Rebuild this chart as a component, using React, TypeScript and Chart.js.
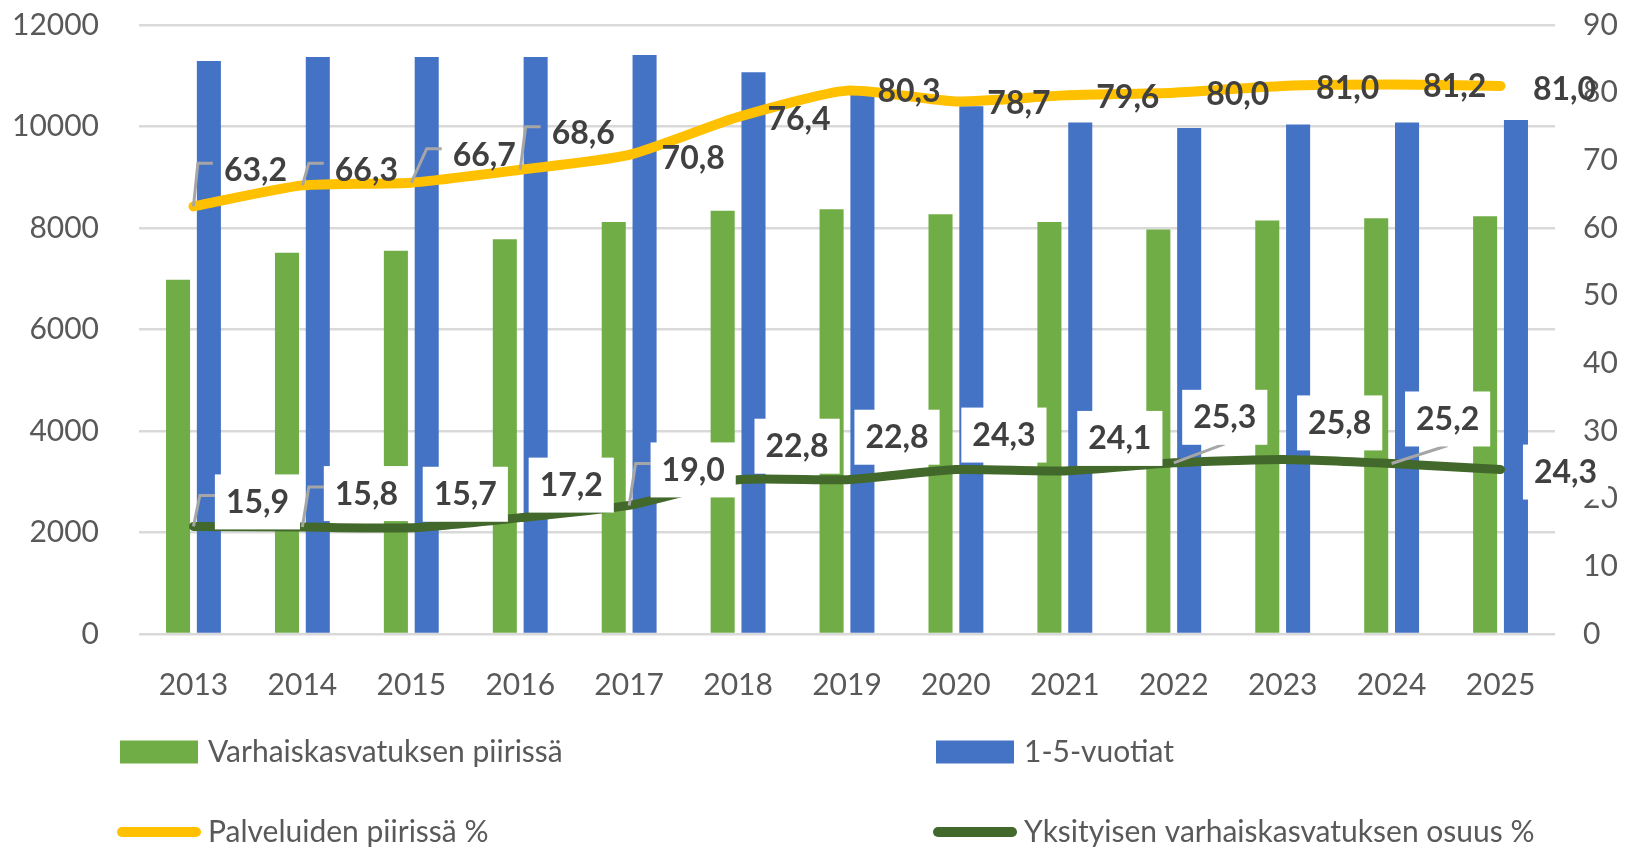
import React, { useEffect, useRef } from "react";
import { Chart, registerables } from "chart.js";

Chart.register(...registerables);

// ---- data ----
const years = ["2013", "2014", "2015", "2016", "2017", "2018", "2019", "2020", "2021", "2022", "2023", "2024", "2025"];
const inEarlyEducation = [6980, 7510, 7550, 7780, 8120, 8340, 8370, 8270, 8120, 7970, 8150, 8190, 8230];
const children1to5 = [11290, 11370, 11370, 11370, 11410, 11070, 10650, 10400, 10080, 9970, 10040, 10080, 10130];
const servicesPct = [63.2, 66.3, 66.7, 68.6, 70.8, 76.4, 80.3, 78.7, 79.6, 80.0, 81.0, 81.2, 81.0];
const privateSharePct = [15.9, 15.8, 15.7, 17.2, 19.0, 22.8, 22.8, 24.3, 24.1, 25.3, 25.8, 25.2, 24.3];

const seriesNames = [
  "Varhaiskasvatuksen piirissä",
  "1-5-vuotiat",
  "Palveluiden piirissä %",
  "Yksityisen varhaiskasvatuksen osuus %",
];

// ---- label layout (pixel nudges relative to the point, plus leader style) ----
const servicesLabelNudge: [number, number, string][] = [
  [62, -37, "elbow"], [64, -16, "elbow"], [73, -28, "elbow"], [63, -37, "elbow"], [64, 3, ""],
  [61, 1, ""], [62, 0, ""], [63, 1, ""], [63, 1, ""], [64, 1, ""], [65, 2, ""], [63, 1, ""], [64, 3, ""],
];
const privateLabelNudge: [number, number, string][] = [
  [64, -25, "elbow"], [64, -34, "elbow"], [54, -34, ""], [51, -33, ""], [64, -36, "elbow"],
  [59, -34, ""], [50, -43, ""], [48, -35, ""], [55, -33, ""], [51, -46, "diag"], [57, -37, ""],
  [56, -45, "diag"], [65, 2, ""],
];

const GREEN = "#70AD47";
const BLUE = "#4472C4";
const YELLOW = "#FFC000";
const DARK = "#43682B";
const TICK_COLOR = "#595959";
const LABEL_COLOR = "#404040";
const FONT = "Lato, 'Open Sans', sans-serif";

const fmt = (v: number) => v.toFixed(1).replace(".", ",");

const labelPlugin = {
  id: "valueLabels",
  afterDatasetsDraw(chart: any) {
    const ctx = chart.ctx as CanvasRenderingContext2D;
    ctx.save();
    ctx.font = `bold 32px ${FONT}`;
    const capH = 23;
    const groups = [
      { ds: 2, values: servicesPct, nudges: servicesLabelNudge, boxed: false },
      { ds: 3, values: privateSharePct, nudges: privateLabelNudge, boxed: true },
    ];
    const items: any[] = [];
    groups.forEach((g) => {
      const meta = chart.getDatasetMeta(g.ds);
      g.values.forEach((v, i) => {
        const pt = meta.data[i];
        const [dx, dy, leader] = g.nudges[i];
        const text = fmt(v);
        const w = ctx.measureText(text).width;
        const cx = pt.x + dx;
        const cy = pt.y + dy;
        items.push({ px: pt.x, py: pt.y, cx, cy, w, text, leader, boxed: g.boxed });
      });
    });
    // leader lines
    ctx.strokeStyle = "#A6A6A6";
    ctx.lineWidth = 3;
    items.forEach((it) => {
      if (!it.leader) return;
      const left = it.cx - it.w / 2;
      ctx.beginPath();
      if (it.leader === "elbow") {
        const ly = it.cy - 6;
        ctx.moveTo(it.px, it.py);
        ctx.lineTo(left - 26, ly);
        ctx.lineTo(left - 11, ly);
      } else {
        ctx.moveTo(it.px, it.py);
        ctx.lineTo(it.cx, it.cy + 27);
      }
      ctx.stroke();
    });
    // boxes and text
    ctx.textAlign = "center";
    ctx.textBaseline = "alphabetic";
    items.forEach((it) => {
      if (it.boxed) {
        ctx.fillStyle = "#FFFFFF";
        ctx.fillRect(it.cx - it.w / 2 - 11, it.cy - 27, it.w + 22, 55);
      }
      ctx.fillStyle = LABEL_COLOR;
      ctx.fillText(it.text, it.cx, it.cy + capH / 2);
    });
    ctx.restore();
  },
};

const legendPlugin = {
  id: "customLegend",
  afterDraw(chart: any) {
    const ctx = chart.ctx as CanvasRenderingContext2D;
    ctx.save();
    ctx.font = `30px ${FONT}`;
    ctx.fillStyle = TICK_COLOR;
    ctx.textBaseline = "middle";
    ctx.textAlign = "left";
    const cols = [120, 936];
    const rows = [752, 832];
    const entries = [
      { type: "box", color: GREEN, col: 0, row: 0, name: seriesNames[0] },
      { type: "box", color: BLUE, col: 1, row: 0, name: seriesNames[1] },
      { type: "line", color: YELLOW, col: 0, row: 1, name: seriesNames[2] },
      { type: "line", color: DARK, col: 1, row: 1, name: seriesNames[3] },
    ];
    entries.forEach((e) => {
      const x = cols[e.col];
      const y = rows[e.row];
      if (e.type === "box") {
        ctx.fillStyle = e.color;
        ctx.fillRect(x, y - 11.5, 78, 23);
      } else {
        ctx.strokeStyle = e.color;
        ctx.lineWidth = 10;
        ctx.lineCap = "round";
        ctx.beginPath();
        ctx.moveTo(x + 2, y);
        ctx.lineTo(x + 76, y);
        ctx.stroke();
      }
      ctx.fillStyle = TICK_COLOR;
      ctx.fillText(e.name, x + 88, y);
    });
    ctx.restore();
  },
};

export default function App() {
  const ref = useRef<HTMLCanvasElement | null>(null);
  useEffect(() => {
    if (!ref.current) return;
    const tickFont = { family: FONT, size: 30 };
    const noPad = (s: any) => { s.paddingTop = 0; s.paddingBottom = 0; };
    const chart = new Chart(ref.current, {
      type: "bar",
      data: {
        labels: years,
        datasets: [
          {
            type: "bar",
            label: seriesNames[0],
            data: inEarlyEducation,
            backgroundColor: GREEN,
            yAxisID: "y",
            order: 2,
            categoryPercentage: 0.566,
            barPercentage: 0.78,
          },
          {
            type: "bar",
            label: seriesNames[1],
            data: children1to5,
            backgroundColor: BLUE,
            yAxisID: "y",
            order: 2,
            categoryPercentage: 0.566,
            barPercentage: 0.78,
          },
          {
            type: "line",
            label: seriesNames[2],
            data: servicesPct,
            borderColor: YELLOW,
            backgroundColor: YELLOW,
            borderWidth: 10,
            pointRadius: 0,
            tension: 0.2,
            borderCapStyle: "round",
            borderJoinStyle: "round",
            yAxisID: "y1",
            order: 0,
          },
          {
            type: "line",
            label: seriesNames[3],
            data: privateSharePct,
            borderColor: DARK,
            backgroundColor: DARK,
            borderWidth: 9,
            pointRadius: 0,
            tension: 0.2,
            borderCapStyle: "round",
            borderJoinStyle: "round",
            yAxisID: "y1",
            order: 1,
          },
        ],
      },
      options: {
        responsive: false,
        animation: false,
        layout: { padding: { top: 25, left: 0, right: 0, bottom: 124 } },
        plugins: { legend: { display: false }, tooltip: { enabled: false } },
        scales: {
          x: {
            grid: { display: false },
            border: { display: false },
            ticks: { font: tickFont, color: TICK_COLOR, padding: 25, maxRotation: 0 },
            afterFit: (s: any) => { s.height = 90; },
          },
          y: {
            position: "left",
            min: 0,
            max: 12000,
            ticks: {
              stepSize: 2000,
              font: tickFont,
              color: TICK_COLOR,
              padding: 40,
              callback: (v: any) => String(v),
            },
            grid: { color: "#D9D9D9", lineWidth: 2.5, drawTicks: false },
            border: { display: false },
            afterFit: (s: any) => { s.width = 139; noPad(s); },
          },
          y1: {
            position: "right",
            min: 0,
            max: 90,
            ticks: { stepSize: 10, font: tickFont, color: TICK_COLOR, padding: 28, callback: (v: any) => String(v) },
            grid: { display: false, drawTicks: false },
            border: { display: false },
            afterFit: (s: any) => { s.width = 82; noPad(s); },
          },
        },
      },
      plugins: [labelPlugin, legendPlugin],
    } as any);
    return () => chart.destroy();
  }, []);
  return (
    <canvas
      ref={ref}
      width={1637}
      height={848}
      style={{ position: "absolute", left: 0, top: 0, width: 1637, height: 848 }}
    />
  );
}
